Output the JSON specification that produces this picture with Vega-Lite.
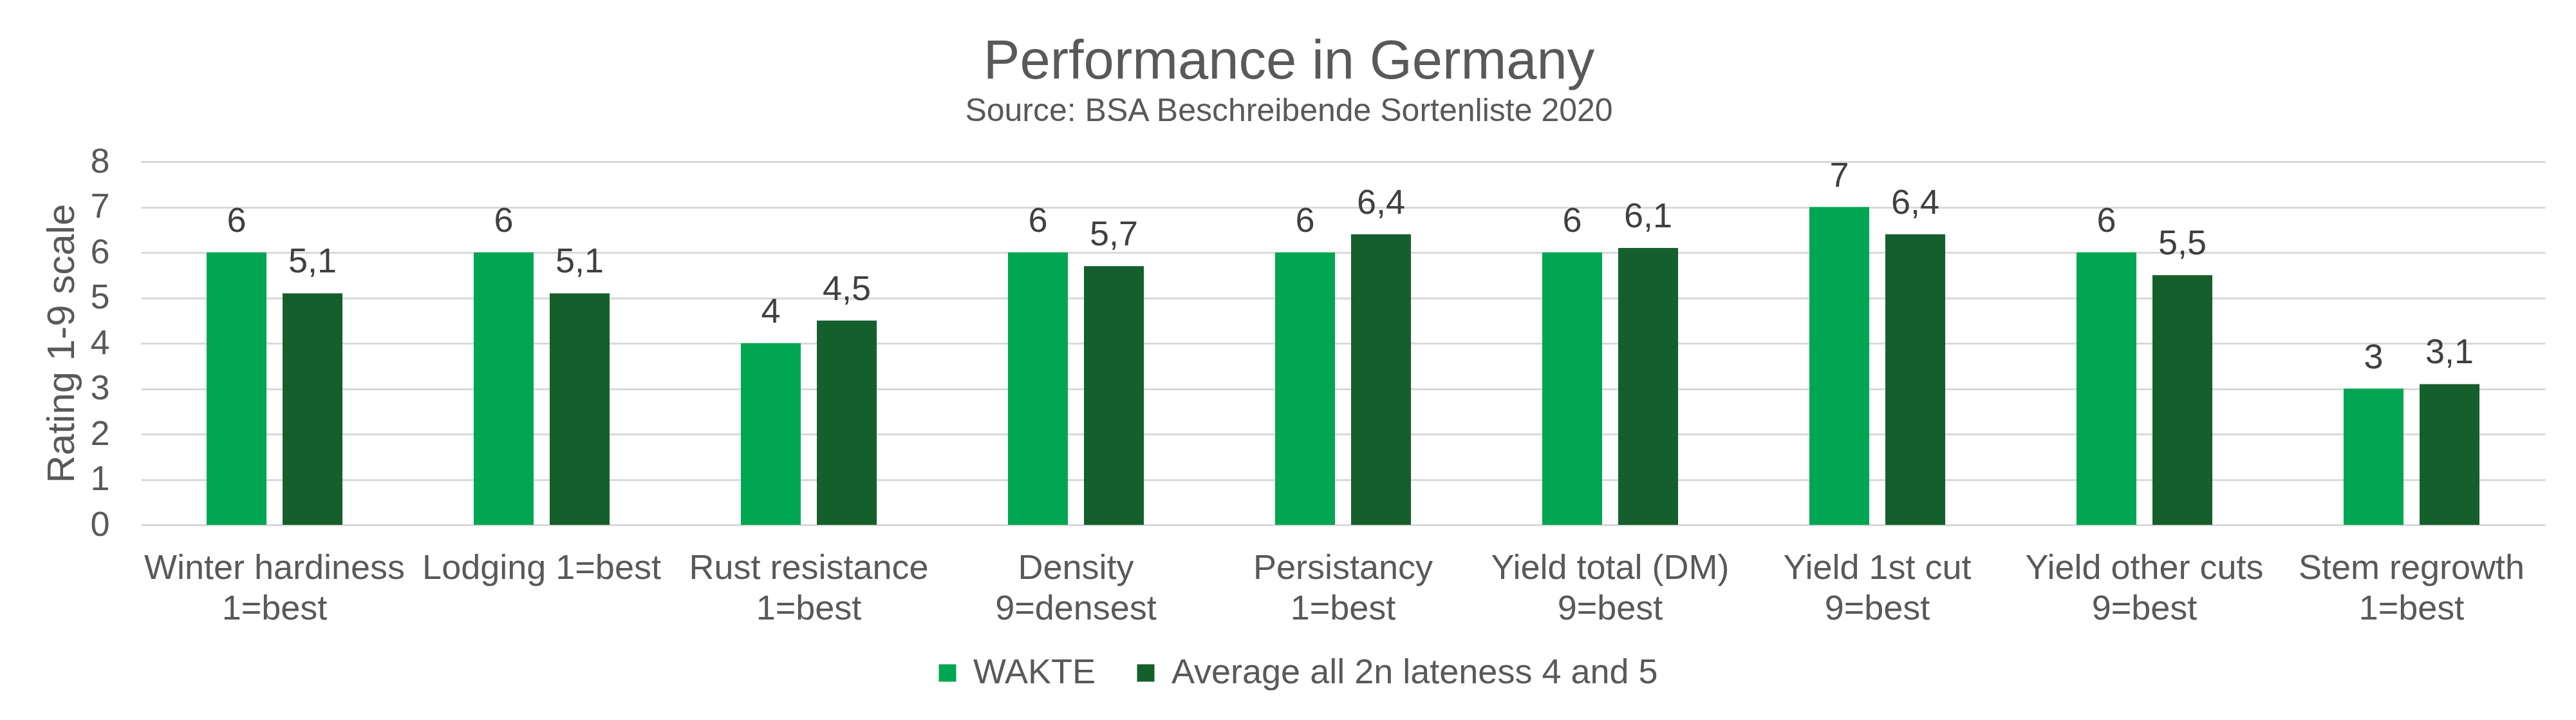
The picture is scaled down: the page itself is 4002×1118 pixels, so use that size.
{
  "$schema": "https://vega.github.io/schema/vega-lite/v6.json",
  "width": 3735,
  "height": 564,
  "autosize": {"type": "none"},
  "padding": {"left": 219, "top": 251, "right": 48, "bottom": 303},
  "background": "white",
  "title": {
    "text": "Performance in Germany",
    "subtitle": "Source: BSA Beschreibende Sortenliste 2020",
    "anchor": "middle",
    "frame": "group",
    "dx": -84,
    "offset": 25,
    "font": "Liberation Sans",
    "fontSize": 85,
    "fontWeight": "normal",
    "color": "#595959",
    "subtitleFont": "Liberation Sans",
    "subtitleFontSize": 50,
    "subtitleColor": "#595959",
    "subtitlePadding": 8
  },
  "data": {
    "values": [
      {"trait": "Winter hardiness|1=best", "series": "WAKTE", "rating": 6},
      {"trait": "Winter hardiness|1=best", "series": "Average all 2n lateness 4 and 5", "rating": 5.1},
      {"trait": "Lodging 1=best", "series": "WAKTE", "rating": 6},
      {"trait": "Lodging 1=best", "series": "Average all 2n lateness 4 and 5", "rating": 5.1},
      {"trait": "Rust resistance|1=best", "series": "WAKTE", "rating": 4},
      {"trait": "Rust resistance|1=best", "series": "Average all 2n lateness 4 and 5", "rating": 4.5},
      {"trait": "Density|9=densest", "series": "WAKTE", "rating": 6},
      {"trait": "Density|9=densest", "series": "Average all 2n lateness 4 and 5", "rating": 5.7},
      {"trait": "Persistancy|1=best", "series": "WAKTE", "rating": 6},
      {"trait": "Persistancy|1=best", "series": "Average all 2n lateness 4 and 5", "rating": 6.4},
      {"trait": "Yield total (DM)|9=best", "series": "WAKTE", "rating": 6},
      {"trait": "Yield total (DM)|9=best", "series": "Average all 2n lateness 4 and 5", "rating": 6.1},
      {"trait": "Yield 1st cut|9=best", "series": "WAKTE", "rating": 7},
      {"trait": "Yield 1st cut|9=best", "series": "Average all 2n lateness 4 and 5", "rating": 6.4},
      {"trait": "Yield other cuts|9=best", "series": "WAKTE", "rating": 6},
      {"trait": "Yield other cuts|9=best", "series": "Average all 2n lateness 4 and 5", "rating": 5.5},
      {"trait": "Stem regrowth|1=best", "series": "WAKTE", "rating": 3},
      {"trait": "Stem regrowth|1=best", "series": "Average all 2n lateness 4 and 5", "rating": 3.1}
    ]
  },
  "encoding": {
    "x": {
      "field": "trait",
      "type": "nominal",
      "sort": null,
      "scale": {"paddingInner": 0, "paddingOuter": 0},
      "axis": {
        "title": null,
        "labelAngle": 0,
        "labelFont": "Liberation Sans",
        "labelFontSize": 54,
        "labelColor": "#595959",
        "labelPadding": 40,
        "labelBaseline": "top",
        "labelLineHeight": 63,
        "labelLimit": 1000,
        "labelExpr": "split(datum.label, '|')",
        "domain": false,
        "ticks": false,
        "tickSize": 0,
        "grid": false
      }
    },
    "xOffset": {
      "field": "series",
      "type": "nominal",
      "sort": ["WAKTE", "Average all 2n lateness 4 and 5"],
      "scale": {"paddingInner": 0.212, "paddingOuter": 0.864}
    },
    "y": {
      "field": "rating",
      "type": "quantitative",
      "scale": {"domain": [0, 8], "nice": false},
      "axis": {
        "title": "Rating 1-9 scale",
        "titleFont": "Liberation Sans",
        "titleFontSize": 60,
        "titleFontWeight": "normal",
        "titleColor": "#595959",
        "titlePadding": 12,
        "values": [0, 1, 2, 3, 4, 5, 6, 7, 8],
        "labelFont": "Liberation Sans",
        "labelFontSize": 54,
        "labelColor": "#595959",
        "labelPadding": 49,
        "domain": false,
        "ticks": false,
        "tickSize": 0,
        "gridColor": "#d9d9d9",
        "gridWidth": 3
      }
    }
  },
  "layer": [
    {
      "mark": {"type": "bar"},
      "encoding": {
        "color": {
          "field": "series",
          "type": "nominal",
          "scale": {
            "domain": ["WAKTE", "Average all 2n lateness 4 and 5"],
            "range": ["#00a651", "#155f2d"]
          },
          "legend": {
            "title": null,
            "orient": "none",
            "direction": "horizontal",
            "legendX": 1226,
            "legendY": 767,
            "labelFont": "Liberation Sans",
            "labelFontSize": 54,
            "labelColor": "#595959",
            "labelLimit": 2000,
            "symbolType": "square",
            "symbolSize": 729,
            "symbolStrokeWidth": 0,
            "labelOffset": 13,
            "columnPadding": 50,
            "padding": 0
          }
        }
      }
    },
    {
      "mark": {
        "type": "text",
        "dy": -32,
        "baseline": "alphabetic",
        "font": "Liberation Sans",
        "fontSize": 54,
        "color": "#404040"
      },
      "encoding": {
        "text": {"field": "rating", "type": "quantitative", "format": ".1~f"}
      }
    }
  ],
  "config": {
    "view": {"stroke": null},
    "locale": {
      "number": {"decimal": ",", "thousands": ".", "grouping": [3], "currency": ["", " €"]}
    }
  }
}
